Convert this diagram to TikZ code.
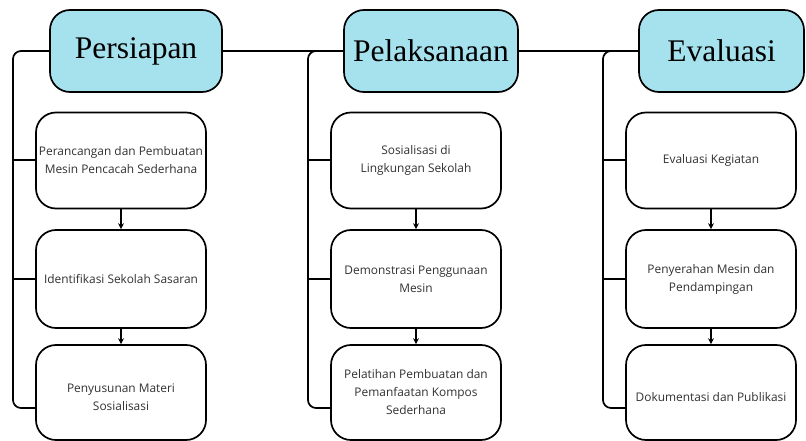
\documentclass[tikz,border=0pt]{standalone}
\usepackage{fontspec}
\setmainfont{Open Sans}
\newfontfamily\headfont{Liberation Serif}
\usetikzlibrary{arrows.meta}
\definecolor{headfill}{RGB}{166,226,238}
\definecolor{txtgray}{RGB}{50,50,50}
\begin{document}
\begin{tikzpicture}[x=1pt,y=-1pt,
  line width=1.7pt,
  head/.style={draw, fill=headfill, rounded corners=20pt, minimum height=82pt, inner sep=0pt,
    font=\headfont\fontsize{31.5}{36}\selectfont},
  sub/.style={draw, fill=white, rounded corners=20pt, minimum width=170pt, inner sep=0pt,
    align=center, text=txtgray, font=\fontsize{11.9}{18}\selectfont},
  arr/.style={-{Stealth[length=6pt,width=6pt]}},
  brk/.style={rounded corners=8pt}]
\useasboundingbox (0,0) rectangle (806,441);

% headers
\node[head, minimum width=172pt] (P) at (136,51) {Persiapan};
\node[head, minimum width=174pt] (L) at (431,51) {Pelaksanaan};
\node[head, minimum width=165pt] (E) at (721.5,51) {Evaluasi};

% column 1
\node[sub, minimum height=96pt] (P1) at (121,160.5) {Perancangan dan Pembuatan\\Mesin Pencacah Sederhana};
\node[sub, minimum height=98pt] (P2) at (121,279) {Identifikasi Sekolah Sasaran};
\node[sub, minimum height=95pt] (P3) at (121,392.5) {\\Penyusunan Materi\\Sosialisasi};

% column 2
\node[sub, minimum height=96pt] (L1) at (416,160.5) {Sosialisasi di\\Lingkungan Sekolah};
\node[sub, minimum height=98pt] (L2) at (416,279) {Demonstrasi Penggunaan\\Mesin};
\node[sub, minimum height=95pt] (L3) at (416,392.5) {Pelatihan Pembuatan dan\\Pemanfaatan Kompos\\Sederhana};

% column 3
\node[sub, minimum height=96pt] (E1) at (711,160.5) {Evaluasi Kegiatan};
\node[sub, minimum height=98pt] (E2) at (711,279) {Penyerahan Mesin dan\\Pendampingan};
\node[sub, minimum height=95pt] (E3) at (711,392.5) {\\Dokumentasi dan Publikasi};

% header links
\draw (P.east) -- (L.west);
\draw (L.east) -- (E.west);

% brackets
\draw[brk] (P.west) -- (13,51) -- (13,408) -- (P3.west |- 0,408);
\draw (13,160) -- (P1.west |- 0,160);
\draw (13,279) -- (P2.west);
\draw[brk] (L.west) -- (308,51) -- (308,408) -- (L3.west |- 0,408);
\draw (308,160) -- (L1.west |- 0,160);
\draw (308,279) -- (L2.west);
\draw[brk] (E.west) -- (603,51) -- (603,408) -- (E3.west |- 0,408);
\draw (603,160) -- (E1.west |- 0,160);
\draw (603,279) -- (E2.west);

% arrows
\draw[arr] (P1) -- (P2);
\draw[arr] (P2) -- (P3);
\draw[arr] (L1) -- (L2);
\draw[arr] (L2) -- (L3);
\draw[arr] (E1) -- (E2);
\draw[arr] (E2) -- (E3);
\end{tikzpicture}
\end{document}
